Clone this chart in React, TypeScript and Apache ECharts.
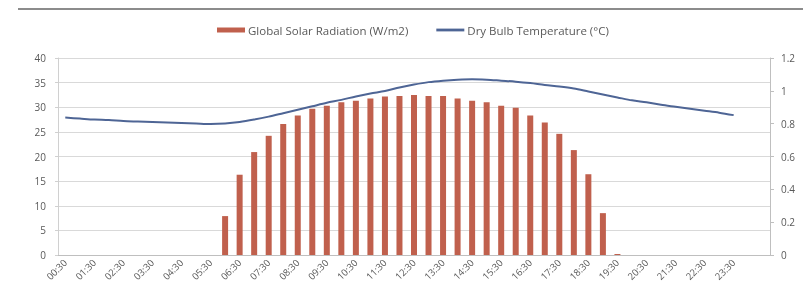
import React, { useEffect, useRef } from "react";
import * as echarts from "echarts";

const categories: string[] = [
  "00:30", "01:00", "01:30", "02:00", "02:30", "03:00", "03:30", "04:00",
  "04:30", "05:00", "05:30", "06:00", "06:30", "07:00", "07:30", "08:00",
  "08:30", "09:00", "09:30", "10:00", "10:30", "11:00", "11:30", "12:00",
  "12:30", "13:00", "13:30", "14:00", "14:30", "15:00", "15:30", "16:00",
  "16:30", "17:00", "17:30", "18:00", "18:30", "19:00", "19:30", "20:00",
  "20:30", "21:00", "21:30", "22:00", "22:30", "23:00", "23:30", "24:00", "24:30",
];

const radiation: (number | null)[] = [
  null, null, null, null, null, null, null, null,
  null, null, null, 7.9, 16.3, 20.9, 24.2, 26.6,
  28.3, 29.7, 30.3, 31.0, 31.3, 31.8, 32.2, 32.3,
  32.5, 32.3, 32.3, 31.8, 31.3, 31.0, 30.3, 29.9,
  28.3, 26.9, 24.6, 21.3, 16.4, 8.5, 0.2, null,
  null, null, null, null, null, null, null, null, null,
];

const temperature: (number | null)[] = [
  27.9, 27.7, 27.5, 27.4, 27.2, 27.1, 27.0, 26.9,
  26.8, 26.7, 26.6, 26.7, 27.0, 27.5, 28.1, 28.8,
  29.5, 30.2, 30.9, 31.5, 32.2, 32.8, 33.3, 34.0,
  34.6, 35.1, 35.4, 35.6, 35.7, 35.6, 35.4, 35.2,
  34.9, 34.5, 34.2, 33.8, 33.2, 32.6, 32.0, 31.4,
  31.0, 30.5, 30.1, 29.7, 29.3, 28.9, 28.4, null, null,
];

const seriesNames = ["Global Solar Radiation (W/m2)", "Dry Bulb Temperature (°C)"];

export default function App() {
  const ref = useRef<HTMLDivElement>(null);
  useEffect(() => {
    if (!ref.current) return;
    const chart = echarts.init(ref.current, undefined, { renderer: "svg" });
    const textColor = "#595959";
    chart.setOption({
      animation: false,
      textStyle: { fontFamily: "Open Sans, Liberation Sans, sans-serif" },
      graphic: [
        {
          type: "line",
          shape: { x1: 18, y1: 9, x2: 803, y2: 9 },
          style: { stroke: "#8c8c8c", lineWidth: 2 },
        },
      ],
      legend: {
        top: 19,
        left: 212,
        itemGap: 28,
        itemWidth: 28,
        itemHeight: 5,
        textStyle: { color: textColor, fontSize: 11.5, padding: [0, 0, 0, -2] },
        data: [
          { name: seriesNames[0], icon: "rect" },
          { name: seriesNames[1], icon: "path://M0 0H20V2H0Z" },
        ],
      },
      grid: { left: 58, right: 33, top: 58, bottom: 46, containLabel: false },
      xAxis: {
        type: "category",
        data: categories,
        boundaryGap: true,
        axisLine: { lineStyle: { color: "#bfbfbf" } },
        axisTick: { interval: 0, length: 3, lineStyle: { color: "#bfbfbf" } },
        axisLabel: {
          rotate: 45,
          fontSize: 9.5,
          color: textColor,
          margin: 6,
          interval: (i: number) => i % 2 === 0 && i <= 46,
        },
      },
      yAxis: [
        {
          type: "value",
          min: 0,
          max: 40,
          interval: 5,
          axisLine: { show: true, lineStyle: { color: "#d0d0d0" } },
          axisTick: { show: true, length: 3, lineStyle: { color: "#d0d0d0" } },
          axisLabel: { color: textColor, fontSize: 10, margin: 12 },
          splitLine: { lineStyle: { color: "#d9d9d9" } },
        },
        {
          type: "value",
          min: 0,
          max: 1.2,
          interval: 0.2,
          position: "right",
          axisLine: { show: true, lineStyle: { color: "#bfbfbf" } },
          axisTick: { show: true, length: 4, lineStyle: { color: "#bfbfbf" } },
          axisLabel: {
            color: textColor,
            fontSize: 10,
            margin: 11,
            formatter: (v: number) => String(+v.toFixed(1)),
          },
          splitLine: { show: false },
        },
      ],
      series: [
        {
          name: seriesNames[0],
          type: "bar",
          data: radiation,
          barWidth: 6,
          itemStyle: { color: "#c0604d" },
        },
        {
          name: seriesNames[1],
          type: "line",
          data: temperature,
          smooth: 0.3,
          showSymbol: false,
          symbol: "none",
          lineStyle: { color: "#4e6595", width: 2 },
          itemStyle: { color: "#4e6595" },
        },
      ],
    });
    return () => chart.dispose();
  }, []);
  return (
    <div
      ref={ref}
      style={{ position: "fixed", left: 0, top: 0, width: 803, height: 301 }}
    />
  );
}
